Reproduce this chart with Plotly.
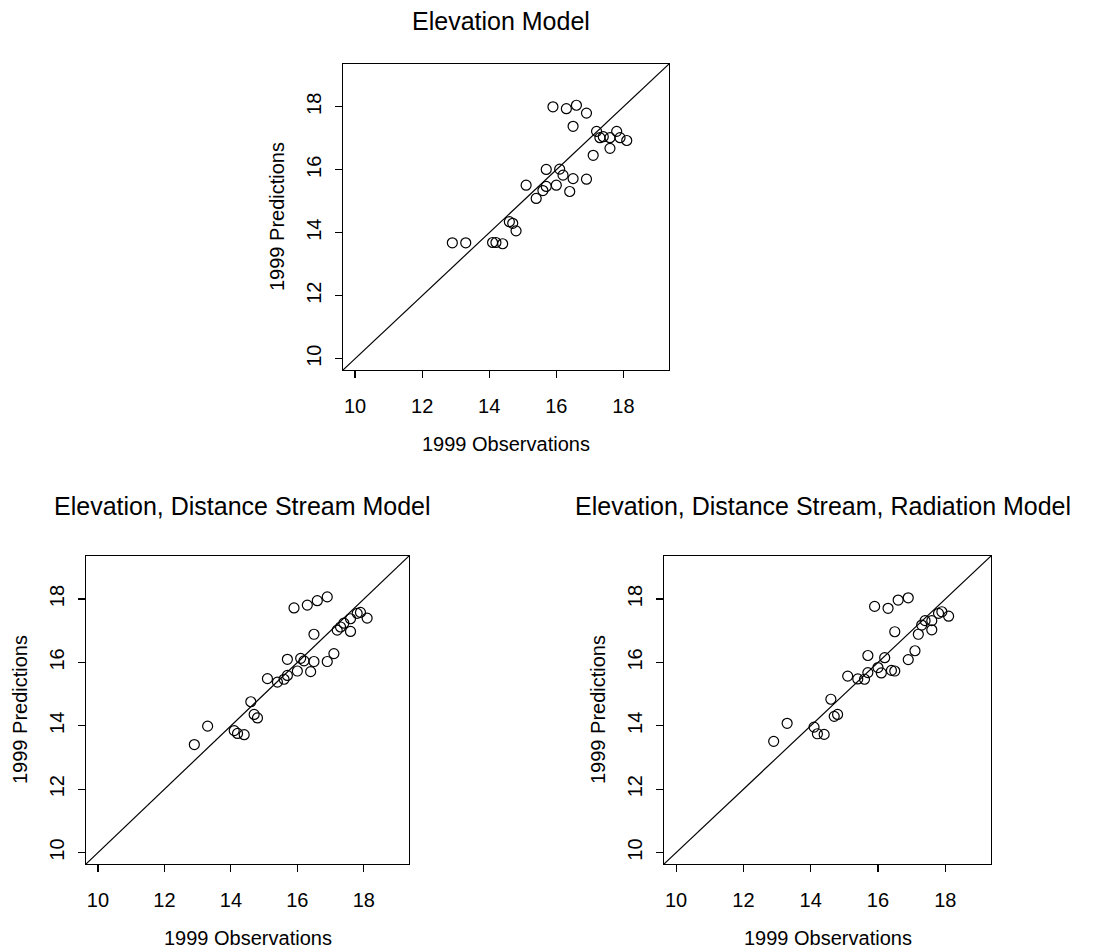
import plotly.graph_objects as go

# ---- data ----
observations = [12.9, 13.3, 14.1, 14.2, 14.4, 14.6, 14.7, 14.8, 15.1, 15.4, 15.6,
                15.7, 15.7, 16.0, 16.1, 16.2, 16.4, 16.5, 16.9, 15.9, 16.3, 16.6,
                16.9, 16.5, 17.2, 17.3, 17.4, 17.6, 17.8, 17.9, 18.1, 17.6, 17.1]

pred_elevation = [13.68, 13.68, 13.69, 13.69, 13.65, 14.35, 14.30, 14.06, 15.51, 15.09, 15.34,
                  15.47, 16.01, 15.51, 16.02, 15.83, 15.31, 15.72, 15.70, 18.00, 17.94, 18.05,
                  17.80, 17.38, 17.22, 17.02, 17.05, 17.02, 17.22, 17.02, 16.93, 16.68, 16.46]

pred_elev_dist = [13.41, 13.99, 13.85, 13.76, 13.72, 14.76, 14.36, 14.25, 15.49, 15.38, 15.47,
                  15.59, 16.10, 15.73, 16.13, 16.05, 15.71, 16.03, 16.03, 17.72, 17.81, 17.95,
                  18.07, 16.89, 17.02, 17.12, 17.24, 17.38, 17.55, 17.58, 17.40, 16.98, 16.28]

pred_elev_dist_rad = [13.51, 14.08, 13.96, 13.75, 13.73, 14.84, 14.30, 14.36, 15.57, 15.48, 15.47,
                      15.68, 16.22, 15.84, 15.67, 16.15, 15.75, 15.73, 16.09, 17.77, 17.71, 17.97,
                      18.04, 16.97, 16.89, 17.18, 17.32, 17.32, 17.55, 17.60, 17.46, 17.03, 16.37]

titles = ["Elevation Model",
          "Elevation, Distance Stream Model",
          "Elevation, Distance Stream, Radiation Model"]
tick_values = [10, 12, 14, 16, 18]
tick_labels = ["10", "12", "14", "16", "18"]
x_title = "1999 Observations"
y_title = "1999 Predictions"
axis_limits = [10, 19]

# ---- layout geometry ----
W, H = 1100, 949
FONT = "Liberation Sans, Arial, Helvetica, sans-serif"
pad = 0.04 * (axis_limits[1] - axis_limits[0])
rng = [axis_limits[0] - pad, axis_limits[1] + pad]

# plot boxes in pixels: (left, right, top, bottom), title offset above box
boxes = [(343, 669, 64, 370), (86, 409, 556, 864), (664, 991, 556, 864)]
title_gap = [43, 50, 50]
series = [pred_elevation, pred_elev_dist, pred_elev_dist_rad]

fig = go.Figure()
layout = dict(width=W, height=H, margin=dict(l=0, r=0, t=0, b=0),
              paper_bgcolor="white", plot_bgcolor="white", showlegend=False,
              font=dict(family=FONT, color="black", size=20))
annotations = []
shapes = []

for i, (box, preds, title) in enumerate(zip(boxes, series, titles)):
    n = "" if i == 0 else str(i + 1)
    xa, ya = "x" + n, "y" + n
    l, r, t, b = box
    axis_common = dict(range=rng, tickvals=tick_values, ticktext=tick_labels,
                       ticks="outside", ticklen=7, tickwidth=1.2, tickcolor="black",
                       showline=True, mirror=True, linecolor="black", linewidth=1.2,
                       showgrid=False, zeroline=False,
                       tickfont=dict(family=FONT, size=20, color="black"))
    layout["xaxis" + n] = dict(axis_common, domain=[l / W, r / W], anchor=ya,
                               ticklabelstandoff=11)
    layout["yaxis" + n] = dict(axis_common, domain=[1 - b / H, 1 - t / H], anchor=xa,
                               tickangle=-90, ticklabelstandoff=6)

    fig.add_trace(go.Scatter(x=observations, y=preds, mode="markers", xaxis=xa, yaxis=ya,
                             marker=dict(symbol="circle-open", size=10, color="black",
                                         line=dict(width=1.2, color="black")),
                             cliponaxis=False))
    # y = x reference line spanning the axis limits
    shapes.append(dict(type="line", xref=xa, yref=ya, x0=rng[0], y0=rng[0],
                       x1=rng[1], y1=rng[1], line=dict(color="black", width=1.2)))

    annotations.append(dict(text=title, xref=xa + " domain", yref=ya + " domain",
                            x=0.5, y=1, yshift=title_gap[i], xshift=-5,
                            xanchor="center", yanchor="middle",
                            showarrow=False, font=dict(family=FONT, size=25, color="black")))
    annotations.append(dict(text=x_title, xref=xa + " domain", yref=ya + " domain",
                            x=0.5, y=0, yshift=-74, xanchor="center", yanchor="middle",
                            showarrow=False, font=dict(family=FONT, size=20, color="black")))
    annotations.append(dict(text=y_title, xref=xa + " domain", yref=ya + " domain",
                            x=0, y=0.5, xshift=-66, xanchor="center", yanchor="middle",
                            textangle=-90, showarrow=False,
                            font=dict(family=FONT, size=20, color="black")))

layout["annotations"] = annotations
layout["shapes"] = shapes
fig.update_layout(**layout)
fig.write_html("out.html",
               config={"displayModeBar": False, "staticPlot": True},
               post_script="document.body.style.margin='0';document.body.style.overflow='hidden';")
